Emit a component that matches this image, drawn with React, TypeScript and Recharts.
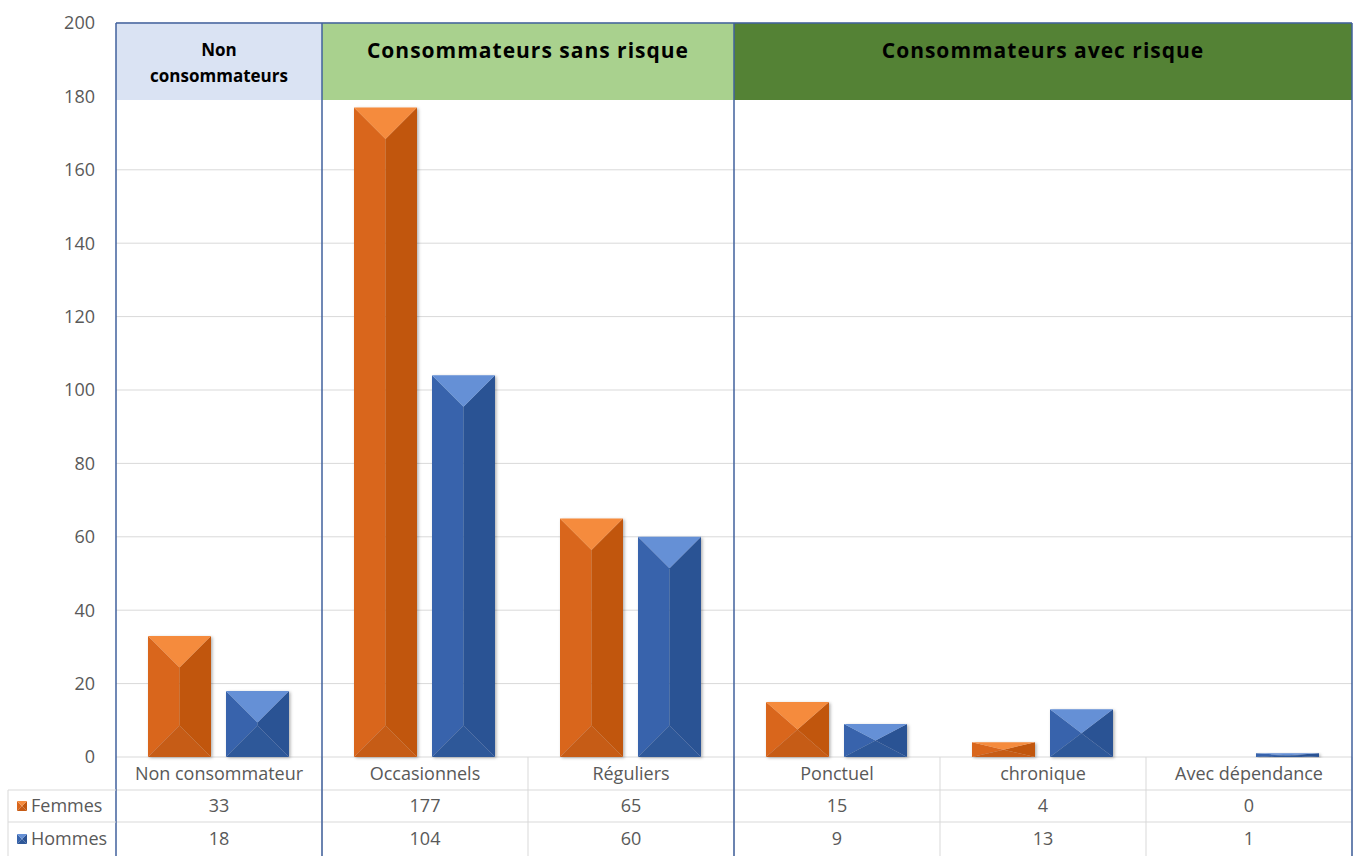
import React from "react";
import {
  BarChart,
  Bar,
  XAxis,
  YAxis,
  CartesianGrid,
  ReferenceArea,
  ReferenceLine,
} from "recharts";

// ── data ──
const categories = [
  "Non consommateur",
  "Occasionnels",
  "Réguliers",
  "Ponctuel",
  "chronique",
  "Avec dépendance",
];
const femmes = [33, 177, 65, 15, 4, 0];
const hommes = [18, 104, 60, 9, 13, 1];
const yTicks = [0, 20, 40, 60, 80, 100, 120, 140, 160, 180, 200];

const groupLabels = [["Non", "consommateurs"], ["Consommateurs sans risque"], ["Consommateurs avec risque"]];
const groupStart = ["Non consommateur", "Occasionnels", "Ponctuel"];
const groupEnd = ["Non consommateur", "Réguliers", "Avec dépendance"];

const data = categories.map((c, i) => ({ name: c, Femmes: femmes[i], Hommes: hommes[i] }));

// ── layout / style ──
const W = 1354;
const H = 856;
const PLOT_LEFT = 116;
const PLOT_RIGHT = 1352;
const PLOT_TOP = 23;
const TABLE_H = 99;
const ROWS = [33, 32, 34];
const HEADER_BOTTOM = 179;
const BAND_W = (PLOT_RIGHT - PLOT_LEFT) / categories.length;

const FONT = "'Open Sans', Lato, sans-serif";
const TEXT = "#595959";
const GRID = "#D9D9D9";
const FRAME = "#41609C";
const GROUP_FILLS = ["#DAE3F3", "#A9D18E", "#548235"];

const ORANGE = { top: "#F58B3D", left: "#D9661D", right: "#C1570F", bottom: "#C65B15" };
const BLUE = { top: "#6590D6", left: "#3764AC", right: "#2C5394", bottom: "#2F5899" };

type Palette = typeof ORANGE;

function bevelPolys(x: number, y: number, w: number, h: number) {
  const d = Math.min(w / 2, h / 2);
  const cx = x + w / 2;
  return {
    top: `${x},${y} ${x + w},${y} ${cx},${y + d}`,
    bottom: `${x},${y + h} ${x + w},${y + h} ${cx},${y + h - d}`,
    left: `${x},${y} ${cx},${y + d} ${cx},${y + h - d} ${x},${y + h}`,
    right: `${x + w},${y} ${cx},${y + d} ${cx},${y + h - d} ${x + w},${y + h}`,
  };
}

function BevelBar(props: any) {
  const { x, y, width, height, palette } = props;
  if (!height || height <= 0) return null;
  const p = bevelPolys(x - 1, y, width, height);
  const c: Palette = palette;
  return (
    <g filter="url(#barShadow)">
      <polygon points={p.left} fill={c.left} />
      <polygon points={p.right} fill={c.right} />
      <polygon points={p.bottom} fill={c.bottom} />
      <polygon points={p.top} fill={c.top} />
    </g>
  );
}

function HeaderLabel(props: any) {
  const { viewBox, lines } = props;
  if (!viewBox) return null;
  const cx = viewBox.x + viewBox.width / 2;
  if (lines.length > 1) {
    return (
      <text x={cx} textAnchor="middle" fontFamily={FONT} fontWeight={700} fontSize={17} fill="#000">
        {lines.map((l: string, i: number) => (
          <tspan key={l} x={cx} y={viewBox.y + 33 + i * 26}>
            {l}
          </tspan>
        ))}
      </text>
    );
  }
  return (
    <text
      x={cx}
      y={viewBox.y + 35}
      textAnchor="middle"
      fontFamily={FONT}
      fontWeight={700}
      fontSize={21}
      letterSpacing={1}
      fill="#000"
    >
      {lines[0]}
    </text>
  );
}

function LegendKey({ x, y, palette }: { x: number; y: number; palette: Palette }) {
  const p = bevelPolys(x, y, 10, 10);
  return (
    <g>
      <polygon points={p.left} fill={palette.left} />
      <polygon points={p.right} fill={palette.right} />
      <polygon points={p.bottom} fill={palette.bottom} />
      <polygon points={p.top} fill={palette.top} />
    </g>
  );
}

// data table drawn as the x-axis ticks
function TableTick(props: any) {
  const { x, y, payload, index } = props;
  const left = x - BAND_W / 2;
  const right = left + BAND_W;
  const y1 = y + ROWS[0];
  const y2 = y1 + ROWS[1];
  const y3 = y2 + ROWS[2];
  const i = index;
  const rows = [
    { label: "Femmes", values: femmes, palette: ORANGE },
    { label: "Hommes", values: hommes, palette: BLUE },
  ];
  const rowTops = [y1, y2];
  return (
    <g fontFamily={FONT} fill={TEXT}>
      <line x1={left} x2={right} y1={y1} y2={y1} stroke={GRID} />
      <line x1={left} x2={right} y1={y2} y2={y2} stroke={GRID} />
      <line x1={right} x2={right} y1={y} y2={y3} stroke={GRID} />
      {groupStart.includes(payload.value) && (
        <line x1={left} x2={left} y1={y} y2={y3} stroke={FRAME} strokeWidth={1.5} />
      )}
      {i === categories.length - 1 && (
        <line x1={right} x2={right} y1={y} y2={y3} stroke={FRAME} strokeWidth={1.5} />
      )}
      <text x={x} y={y + ROWS[0] / 2 + 6} textAnchor="middle" fontSize={18}>
        {payload.value}
      </text>
      {rows.map((r, k) => (
        <text key={r.label} x={x} y={rowTops[k] + ROWS[k + 1] / 2 + 6} textAnchor="middle" fontSize={18}>
          {r.values[i]}
        </text>
      ))}
      {i === 0 && (
        <g>
          <line x1={8} x2={left} y1={y1} y2={y1} stroke={GRID} />
          <line x1={8} x2={left} y1={y2} y2={y2} stroke={GRID} />
          <line x1={8} x2={8} y1={y1} y2={y3} stroke={GRID} />
          {rows.map((r, k) => (
            <g key={r.label}>
              <LegendKey x={17} y={rowTops[k] + ROWS[k + 1] / 2 - 5} palette={r.palette} />
              <text x={31} y={rowTops[k] + ROWS[k + 1] / 2 + 6} fontSize={18}>
                {r.label}
              </text>
            </g>
          ))}
        </g>
      )}
    </g>
  );
}

export default function App() {
  return (
    <div style={{ position: "absolute", left: 0, top: 0, width: W, height: H, background: "#fff" }}>
      <BarChart
        width={W}
        height={H}
        data={data}
        margin={{ top: PLOT_TOP, right: W - PLOT_RIGHT, bottom: 0, left: 0 }}
        barSize={63}
        barGap={15}
      >
        <defs>
          <filter id="barShadow" x="-20%" y="-20%" width="140%" height="140%">
            <feDropShadow dx={1.5} dy={1} stdDeviation={1.5} floodColor="#000" floodOpacity={0.3} />
          </filter>
        </defs>
        <CartesianGrid vertical={false} stroke={GRID} />
        <XAxis
          dataKey="name"
          height={TABLE_H}
          axisLine={false}
          tickLine={false}
          tickSize={0}
          tickMargin={0}
          interval={0}
          tick={<TableTick />}
        />
        <YAxis
          width={PLOT_LEFT}
          domain={[0, 200]}
          ticks={yTicks}
          axisLine={false}
          tickLine={false}
          tickSize={0}
          tickMargin={21}
          tick={{ fill: TEXT, fontSize: 18, fontFamily: FONT }}
        />
        {groupLabels.map((lines, g) => (
          <ReferenceArea
            key={g}
            x1={groupStart[g]}
            x2={groupEnd[g]}
            y1={HEADER_BOTTOM}
            y2={200}
            fill={GROUP_FILLS[g]}
            fillOpacity={1}
            stroke="none"
            label={<HeaderLabel lines={lines} />}
          />
        ))}
        <Bar
          dataKey="Femmes"
          isAnimationActive={false}
          shape={(p: any) => <BevelBar {...p} palette={ORANGE} />}
        />
        <Bar
          dataKey="Hommes"
          isAnimationActive={false}
          shape={(p: any) => <BevelBar {...p} palette={BLUE} />}
        />
        {groupStart.map((c) => (
          <ReferenceLine key={c} x={c} position="start" stroke={FRAME} strokeWidth={1.5} />
        ))}
        <ReferenceLine x={categories[categories.length - 1]} position="end" stroke={FRAME} strokeWidth={1.5} />
        <ReferenceLine y={200} stroke={FRAME} strokeWidth={1.5} />
      </BarChart>
    </div>
  );
}
